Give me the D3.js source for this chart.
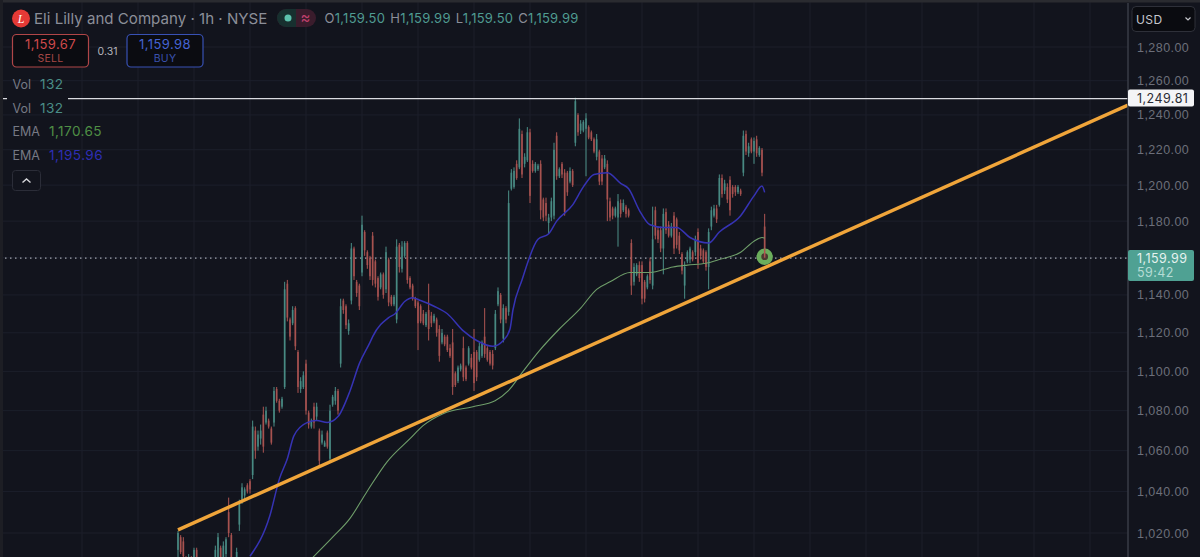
<!DOCTYPE html>
<html lang="en">

<head>
    <meta charset="UTF-8">
    <title>Eli Lilly and Company 1h</title>
    <script src="https://d3js.org/d3.v7.min.js"></script>
    <style>
        html, body {
            margin: 0;
            padding: 0;
            background-color: #12141d;
            overflow: hidden;
        }

        svg {
            display: block;
            font-family: Inter, "Noto Sans", sans-serif;
        }

        .price-axis text {
            fill: #6c6f7a;
            font-size: 12.5px;
            letter-spacing: 0.45px;
        }

        .price-axis .domain {
            stroke: #383b46;
            stroke-width: 1.5;
        }
    </style>
</head>

<body>
    <div id="chart"></div>

    <script>
        // Hourly candles (bar 0 is the first one on screen)
        const opens = [
            1012, 1018, 1016, 1008, 1002, 1008, 1003, 1012, 1006, 1000,
            1002, 998, 1001, 997, 1004, 1008, 1013, 1006, 1010, 1030,
            1019, 1005, 1003, 1024, 1036, 1038, 1043, 1045, 1048, 1070,
            1062, 1066, 1078, 1074, 1075, 1071, 1074, 1091, 1085, 1082,
            1092, 1146, 1127, 1125, 1133, 1110, 1091, 1092, 1104, 1079,
            1072, 1082, 1077, 1070, 1064, 1062, 1069, 1056, 1083, 1085,
            1090, 1104, 1137, 1134, 1121, 1137, 1165, 1147, 1145, 1152,
            1174, 1163, 1160, 1172, 1158, 1149, 1144, 1151, 1143, 1159,
            1139, 1135, 1127, 1167, 1154, 1161, 1168, 1149, 1145, 1138,
            1136, 1134, 1130, 1124, 1132, 1129, 1126, 1127, 1122, 1115,
            1118, 1118, 1112, 1115, 1099, 1095, 1101, 1112, 1102, 1104,
            1107, 1110, 1110, 1106, 1108, 1118, 1112, 1110, 1109, 1112,
            1135, 1140, 1117, 1133, 1131, 1198, 1199, 1212, 1210, 1229,
            1212, 1214, 1230, 1212, 1208, 1209, 1212, 1192, 1190, 1179,
            1182, 1183, 1228, 1205, 1212, 1207, 1207, 1202, 1208, 1224,
            1240, 1231, 1231, 1232, 1233, 1230, 1226, 1216, 1219, 1215,
            1210, 1212, 1191, 1187, 1183, 1182, 1190, 1186, 1188, 1186,
            1168, 1147, 1151, 1156, 1156, 1147, 1144, 1158, 1145, 1186,
            1175, 1175, 1165, 1185, 1178, 1172, 1183, 1181, 1172, 1162,
            1145, 1158, 1159, 1163, 1163, 1174, 1165, 1164, 1163, 1155,
            1177, 1183, 1187, 1189, 1204, 1197, 1199, 1203, 1199, 1199,
            1196, 1197, 1207, 1229, 1218, 1226, 1219, 1226, 1217, 1220,
            1177
        ];
        const highs = [
            1021, 1019, 1018, 1009, 1010, 1009, 1013, 1013, 1008, 1004,
            1005, 1003, 1004, 1006, 1014, 1020, 1014, 1016, 1018, 1037,
            1020, 1006, 1013, 1036, 1044, 1042, 1044, 1046, 1075, 1072,
            1070, 1073, 1082, 1082, 1076, 1072, 1092, 1092, 1086, 1087,
            1147, 1148, 1128, 1134, 1134, 1111, 1097, 1100, 1106, 1080,
            1076, 1084, 1084, 1071, 1070, 1065, 1070, 1083, 1088, 1092,
            1091, 1138, 1138, 1135, 1127, 1168, 1166, 1148, 1146, 1183,
            1175, 1164, 1161, 1174, 1159, 1150, 1152, 1152, 1166, 1160,
            1140, 1140, 1170, 1168, 1169, 1169, 1169, 1150, 1146, 1139,
            1137, 1135, 1132, 1131, 1146, 1131, 1130, 1128, 1124, 1122,
            1119, 1119, 1114, 1122, 1100, 1103, 1104, 1118, 1103, 1113,
            1109, 1122, 1111, 1115, 1116, 1133, 1113, 1111, 1111, 1132,
            1144, 1141, 1135, 1134, 1197, 1209, 1210, 1214, 1238, 1231,
            1218, 1233, 1232, 1214, 1213, 1212, 1214, 1193, 1193, 1184,
            1193, 1224, 1230, 1210, 1213, 1209, 1208, 1210, 1209, 1250,
            1241, 1237, 1237, 1241, 1234, 1231, 1227, 1229, 1220, 1217,
            1217, 1214, 1193, 1188, 1188, 1195, 1192, 1192, 1189, 1187,
            1170, 1157, 1157, 1158, 1158, 1148, 1151, 1160, 1188, 1188,
            1177, 1177, 1187, 1187, 1180, 1179, 1185, 1182, 1174, 1163,
            1158, 1164, 1166, 1164, 1172, 1176, 1167, 1165, 1164, 1176,
            1188, 1189, 1189, 1206, 1206, 1203, 1201, 1205, 1200, 1200,
            1200, 1198, 1231, 1231, 1224, 1227, 1227, 1228, 1222, 1221,
            1184
        ];
        const lows = [
            1005, 1010, 1008, 1000, 1000, 1001, 1002, 1005, 999, 996,
            997, 995, 996, 996, 1003, 1006, 1005, 1005, 1008, 1018,
            1006, 998, 1002, 1021, 1034, 1036, 1039, 1039, 1046, 1056,
            1060, 1063, 1059, 1073, 1071, 1063, 1072, 1084, 1079, 1081,
            1091, 1126, 1116, 1124, 1111, 1089, 1089, 1091, 1078, 1071,
            1071, 1071, 1075, 1052, 1063, 1062, 1061, 1054, 1082, 1083,
            1078, 1102, 1130, 1122, 1119, 1135, 1148, 1139, 1132, 1150,
            1161, 1154, 1148, 1145, 1144, 1137, 1143, 1138, 1141, 1134,
            1134, 1134, 1125, 1152, 1152, 1160, 1146, 1143, 1137, 1133,
            1111, 1125, 1124, 1123, 1116, 1123, 1125, 1118, 1105, 1114,
            1113, 1110, 1107, 1088, 1092, 1094, 1100, 1095, 1095, 1103,
            1101, 1090, 1095, 1105, 1107, 1107, 1105, 1103, 1101, 1111,
            1134, 1125, 1115, 1125, 1129, 1197, 1198, 1203, 1209, 1204,
            1210, 1213, 1190, 1207, 1207, 1208, 1181, 1180, 1180, 1173,
            1180, 1181, 1203, 1204, 1204, 1183, 1194, 1201, 1199, 1222,
            1228, 1229, 1230, 1205, 1226, 1225, 1218, 1214, 1200, 1200,
            1209, 1180, 1180, 1181, 1182, 1166, 1182, 1185, 1182, 1182,
            1140, 1145, 1150, 1147, 1135, 1136, 1143, 1146, 1143, 1170,
            1168, 1163, 1151, 1173, 1171, 1171, 1162, 1165, 1162, 1151,
            1138, 1157, 1157, 1158, 1161, 1154, 1159, 1157, 1153, 1143,
            1175, 1182, 1179, 1188, 1193, 1195, 1190, 1183, 1193, 1194,
            1195, 1194, 1205, 1217, 1216, 1218, 1212, 1216, 1216, 1205,
            1159.5
        ];
        const closes = [
            1020, 1011, 1009, 1002, 1008, 1003, 1012, 1006, 1000, 1002,
            998, 1001, 997, 1004, 1012, 1018, 1006, 1014, 1017, 1020,
            1008, 1000, 1011, 1034, 1042, 1041, 1040, 1041, 1072, 1060,
            1068, 1070, 1062, 1080, 1072, 1064, 1090, 1085, 1080, 1086,
            1143, 1128, 1118, 1132, 1113, 1092, 1095, 1098, 1080, 1073,
            1075, 1074, 1082, 1055, 1068, 1064, 1062, 1080, 1087, 1090,
            1080, 1134, 1132, 1124, 1125, 1165, 1150, 1141, 1134, 1178,
            1164, 1156, 1150, 1148, 1146, 1139, 1151, 1140, 1163, 1136,
            1135, 1139, 1166, 1155, 1166, 1168, 1148, 1144, 1138, 1134,
            1125, 1126, 1125, 1130, 1122, 1125, 1129, 1120, 1108, 1120,
            1114, 1111, 1108, 1092, 1093, 1102, 1103, 1097, 1096, 1112,
            1102, 1094, 1097, 1113, 1115, 1109, 1106, 1104, 1103, 1130,
            1142, 1127, 1133, 1127, 1190, 1207, 1208, 1204, 1232, 1206,
            1216, 1230, 1194, 1208, 1212, 1211, 1186, 1182, 1183, 1182,
            1191, 1220, 1205, 1209, 1206, 1185, 1196, 1208, 1200, 1248,
            1230, 1235, 1236, 1238, 1227, 1226, 1219, 1226, 1202, 1202,
            1215, 1192, 1182, 1183, 1187, 1191, 1184, 1190, 1184, 1183,
            1145, 1155, 1156, 1149, 1138, 1138, 1150, 1148, 1170, 1172,
            1170, 1165, 1184, 1175, 1172, 1177, 1165, 1167, 1164, 1153,
            1155, 1163, 1165, 1159, 1170, 1157, 1161, 1158, 1155, 1174,
            1186, 1187, 1181, 1204, 1195, 1201, 1192, 1186, 1195, 1196,
            1199, 1195, 1228, 1219, 1222, 1219, 1225, 1218, 1221, 1207,
            1160
        ];

        // EMA lines, read at the bars where they bend
        const blueEmaBars = [27, 34.5, 38, 41, 43.5, 48.4, 52, 56, 60, 64.5, 68, 72, 73, 79, 81.4, 85, 88, 91, 96, 101,
            107, 112, 118, 122, 124.5, 125.6, 129, 135, 139, 142, 148, 152, 156, 161, 166, 169, 173, 177, 182, 187,
            192, 199, 203, 211, 216, 219, 220];
        const blueEma = [1009, 1028.5, 1046, 1056, 1067.5, 1074, 1075, 1074, 1077, 1090, 1104, 1115, 1118, 1128, 1130, 1136.5, 1138.5, 1137, 1134, 1130,
            1121, 1116, 1113, 1116, 1122, 1132, 1148, 1170, 1173, 1180, 1189, 1199, 1206, 1207, 1201, 1198, 1186, 1178, 1176.5, 1176.5,
            1171, 1168, 1174, 1183, 1194, 1199.5, 1195.96];
        const greenEmaBars = [50.6, 58, 64.5, 70.9, 78.4, 87, 91.9, 99.4, 110.6, 118.9, 123.8, 129.4, 135.7, 143, 151, 157, 162, 169.5, 177, 185.6,
            191, 198, 203, 211, 216, 219, 220];
        const greenEma = [1008.5, 1018, 1027, 1040, 1054.5, 1066, 1072.5, 1078.5, 1082, 1085, 1090, 1100, 1111, 1122, 1133, 1143, 1147, 1152, 1152, 1155,
            1156, 1157, 1159, 1163, 1169, 1171, 1170.65];

        // Hand drawn trend line, first and last anchor
        const trendBars = [0, 356.25];
        const trendPrices = [1021.5, 1245.7];

        const priceTicks = [1280, 1260, 1240, 1220, 1200, 1180, 1140, 1120, 1100, 1080, 1060, 1040, 1020];
        const gridPrices = [1280, 1260, 1240, 1220, 1200, 1180, 1160, 1140, 1120, 1100, 1080, 1060, 1040, 1020];
        const gridBars = [-36, -15, 6, 27, 48, 69, 90, 111, 132, 153, 174, 195, 216, 237, 258, 279, 300, 321, 342];
        const highLine = 1249.81;
        const lastPrice = 1159.99;

        const upColor = "#4a8f87";
        const downColor = "#ad5451";
        const width = 1200;
        const height = 557;
        const plotRight = 1128;

        // Chart area: bars run on a linear scale, prices on a log scale
        const x = d3.scaleLinear().domain([0, 356.25]).range([178, plotRight]);
        const y = d3.scaleLog().domain([1020, 1280]).range([533, 47]);

        const svg = d3.select("#chart")
            .append("svg")
            .attr("width", width)
            .attr("height", height);

        svg.append("rect")
            .attr("width", width)
            .attr("height", height)
            .attr("fill", "#12141d");

        const defs = svg.append("defs");
        defs.append("clipPath")
            .attr("id", "plot-clip")
            .append("rect")
            .attr("width", plotRight)
            .attr("height", height);

        // The screenshot is soft, candles get a slight blur
        defs.append("filter")
            .attr("id", "soft")
            .append("feGaussianBlur")
            .attr("stdDeviation", 0.45);

        // Grid
        const grid = svg.append("g").attr("stroke", "#1c1f2b").attr("stroke-width", 1);
        grid.selectAll(".h")
            .data(gridPrices)
            .enter().append("line")
            .attr("x1", 0)
            .attr("x2", plotRight)
            .attr("y1", d => y(d))
            .attr("y2", d => y(d));
        grid.selectAll(".v")
            .data(gridBars)
            .enter().append("line")
            .attr("x1", d => x(d))
            .attr("x2", d => x(d))
            .attr("y1", 0)
            .attr("y2", height);

        const plot = svg.append("g").attr("clip-path", "url(#plot-clip)");

        // Last price line
        plot.append("line")
            .attr("x1", 0)
            .attr("x2", plotRight)
            .attr("y1", y(lastPrice) + 0.5)
            .attr("y2", y(lastPrice) + 0.5)
            .attr("stroke", "#a3a5ae")
            .attr("stroke-width", 1.3)
            .attr("stroke-dasharray", "1.5 3.5");

        // Candles
        const candleColor = (d, i) => closes[i] >= opens[i] ? upColor : downColor;
        const candles = plot.append("g").attr("filter", "url(#soft)");

        candles.append("g").selectAll("line")
            .data(opens)
            .enter().append("line")
            .attr("x1", (d, i) => x(i))
            .attr("x2", (d, i) => x(i))
            .attr("y1", (d, i) => y(highs[i]))
            .attr("y2", (d, i) => y(lows[i]))
            .attr("stroke", candleColor)
            .attr("stroke-width", 1);

        candles.append("g").selectAll("rect")
            .data(opens)
            .enter().append("rect")
            .attr("x", (d, i) => x(i) - 0.9)
            .attr("width", 1.8)
            .attr("y", (d, i) => y(Math.max(opens[i], closes[i])))
            .attr("height", (d, i) => Math.abs(y(opens[i]) - y(closes[i])))
            .attr("fill", candleColor)
            .attr("opacity", 0.8);

        // EMAs
        const emaLine = d3.line()
            .curve(d3.curveMonotoneX)
            .x(d => x(d[0]))
            .y(d => y(d[1]));
        const straightLine = d3.line()
            .x(d => x(d[0]))
            .y(d => y(d[1]));

        plot.append("path")
            .attr("d", emaLine(d3.zip(greenEmaBars, greenEma)))
            .attr("fill", "none")
            .attr("stroke", "#6f9e6a")
            .attr("stroke-width", 1.1);

        plot.append("path")
            .attr("d", emaLine(d3.zip(blueEmaBars, blueEma)))
            .attr("fill", "none")
            .attr("stroke", "#3633b4")
            .attr("stroke-width", 1.5);

        // Horizontal level
        plot.append("line")
            .attr("x1", 3)
            .attr("x2", plotRight)
            .attr("y1", y(highLine) + 0.5)
            .attr("y2", y(highLine) + 0.5)
            .attr("stroke", "#dadbe0")
            .attr("stroke-width", 1.3);

        // Trend line
        plot.append("path")
            .attr("d", straightLine(d3.zip(trendBars, trendPrices)))
            .attr("fill", "none")
            .attr("stroke", "#f0a53a")
            .attr("stroke-width", 3.4);

        // Marker on the last candle
        svg.append("circle")
            .attr("cx", x(220))
            .attr("cy", y(lastPrice) - 1)
            .attr("r", 8.2)
            .attr("fill", "#6bae5c");
        svg.append("circle")
            .attr("cx", x(220))
            .attr("cy", y(lastPrice) - 1)
            .attr("r", 3.4)
            .attr("fill", "#4a3b30");
        svg.append("line")
            .attr("x1", x(220))
            .attr("x2", x(220))
            .attr("y1", y(lastPrice) - 9)
            .attr("y2", y(lastPrice))
            .attr("stroke", downColor)
            .attr("stroke-width", 1.5);

        // Price axis
        svg.append("g")
            .attr("class", "price-axis")
            .attr("transform", `translate(${plotRight},0)`)
            .call(d3.axisRight(y)
                .tickValues(priceTicks)
                .tickFormat(d3.format(",.2f"))
                .tickSize(0)
                .tickPadding(9));

        svg.select(".price-axis .domain").attr("d", `M0,3V${height}`);

        // Axis tags
        svg.append("rect")
            .attr("x", plotRight).attr("y", y(highLine) - 8.5)
            .attr("width", 66).attr("height", 17)
            .attr("rx", 2)
            .attr("fill", "#f4f4f6");
        svg.append("text")
            .attr("x", 1137).attr("y", y(highLine) + 4.5)
            .attr("font-size", 12.5).attr("letter-spacing", 0.45)
            .attr("fill", "#2a2c34")
            .text(d3.format(",.2f")(highLine));

        svg.append("rect")
            .attr("x", plotRight).attr("y", 250)
            .attr("width", 66).attr("height", 31)
            .attr("rx", 2)
            .attr("fill", "#4fa193");
        svg.append("text")
            .attr("x", 1137).attr("y", 262.5)
            .attr("font-size", 12.5).attr("letter-spacing", 0.45)
            .attr("fill", "#e6f2ef")
            .text(d3.format(",.2f")(lastPrice));
        svg.append("text")
            .attr("x", 1137).attr("y", 276.5)
            .attr("font-size", 12.5).attr("letter-spacing", 0.45)
            .attr("fill", "#b5dcd5")
            .text("59:42");

        // Currency box
        svg.append("rect")
            .attr("x", 1132).attr("y", 6.5)
            .attr("width", 63).attr("height", 25)
            .attr("rx", 4)
            .attr("fill", "#0a0b10")
            .attr("stroke", "#2e3039");
        svg.append("text")
            .attr("x", 1136).attr("y", 23.5)
            .attr("font-size", 12).attr("letter-spacing", 0.4)
            .attr("fill", "#c6c7cd")
            .text("USD");
        svg.append("path")
            .attr("d", "M1185.5,17.5l2.5,2.5l2.5,-2.5")
            .attr("fill", "none")
            .attr("stroke", "#c6c7cd")
            .attr("stroke-width", 1.2);

        // Frame at the top and left of the screenshot
        svg.append("rect").attr("width", width).attr("height", 2.5).attr("fill", "#2a2b30");
        svg.append("rect").attr("width", 3).attr("height", height).attr("fill", "#1d1e24");

        // Legend block, covers the level line behind it
        svg.append("rect")
            .attr("x", 7).attr("y", 92)
            .attr("width", 61).attr("height", 14)
            .attr("fill", "#12141d");

        svg.append("circle").attr("cx", 21).attr("cy", 18.5).attr("r", 9).attr("fill", "#e43a36");
        svg.append("text")
            .attr("x", 21).attr("y", 22.5)
            .attr("text-anchor", "middle")
            .attr("font-family", "Liberation Serif")
            .attr("font-style", "italic")
            .attr("font-size", 12)
            .attr("fill", "#ffffff")
            .text("L");

        svg.append("text")
            .attr("x", 34).attr("y", 23.5)
            .attr("font-size", 15.1)
            .attr("fill", "#8b8e98")
            .text("Eli Lilly and Company · 1h · NYSE");

        svg.append("rect")
            .attr("x", 277).attr("y", 9)
            .attr("width", 39).attr("height", 18)
            .attr("rx", 9)
            .attr("fill", "#3a1c2c");
        svg.append("path")
            .attr("d", "M286,9h10v18h-10a9,9 0 0 1 0,-18z")
            .attr("fill", "#17302f");
        svg.append("circle").attr("cx", 288).attr("cy", 18).attr("r", 3.5).attr("fill", "#5cc2ad");
        svg.append("text")
            .attr("x", 305.5).attr("y", 23)
            .attr("text-anchor", "middle")
            .attr("font-size", 15)
            .attr("fill", "#c0406c")
            .text("≈");

        // OHLC readout
        const ohlcLabels = ["O", "H", "L", "C"];
        const ohlcValues = ["1,159.50", "1,159.99", "1,159.50", "1,159.99"];
        const ohlc = svg.append("text")
            .attr("x", 324.5).attr("y", 23)
            .attr("font-size", 13)
            .attr("letter-spacing", 0.25);
        ohlcLabels.forEach((label, i) => {
            ohlc.append("tspan").attr("dx", i ? 5 : 0).attr("fill", "#8b8e98").text(label);
            ohlc.append("tspan").attr("fill", "#4f9b91").text(ohlcValues[i]);
        });

        // Sell and buy boxes
        const tradeBoxes = [
            { x: 12.5, w: 76, stroke: "#b04648", price: "1,159.67", priceFill: "#cf4a4c", label: "SELL", labelFill: "#a64846" },
            { x: 127, w: 76, stroke: "#3851b4", price: "1,159.98", priceFill: "#4463d2", label: "BUY", labelFill: "#3a52ad" }
        ];
        tradeBoxes.forEach(b => {
            svg.append("rect")
                .attr("x", b.x).attr("y", 34.5)
                .attr("width", b.w).attr("height", 32.5)
                .attr("rx", 4)
                .attr("fill", "#0b0c11")
                .attr("stroke", b.stroke)
                .attr("stroke-width", 1.2);
            svg.append("text")
                .attr("x", b.x + b.w / 2).attr("y", 49)
                .attr("text-anchor", "middle")
                .attr("font-size", 13).attr("letter-spacing", 0.4)
                .attr("fill", b.priceFill)
                .text(b.price);
            svg.append("text")
                .attr("x", b.x + b.w / 2).attr("y", 62)
                .attr("text-anchor", "middle")
                .attr("font-size", 10.5).attr("letter-spacing", 0.3)
                .attr("fill", b.labelFill)
                .text(b.label);
        });
        svg.append("text")
            .attr("x", 107.5).attr("y", 54.5)
            .attr("text-anchor", "middle")
            .attr("font-size", 10.5)
            .attr("fill", "#b4b5bc")
            .text("0.31");

        // Indicator rows
        const rowNames = ["Vol", "Vol", "EMA", "EMA"];
        const rowValues = ["132", "132", "1,170.65", "1,195.96"];
        const rowFills = ["#4a8d87", "#4a8d87", "#4f8f45", "#2e2eb4"];
        const rowY = [88.5, 112.5, 136, 160];
        const rowValueX = [40, 40, 49, 49];
        rowNames.forEach((name, i) => {
            svg.append("text")
                .attr("x", 12.5).attr("y", rowY[i])
                .attr("font-size", 12.5)
                .attr("fill", "#767984")
                .text(name);
            svg.append("text")
                .attr("x", rowValueX[i]).attr("y", rowY[i])
                .attr("font-size", 13.6).attr("letter-spacing", 0.4)
                .attr("fill", rowFills[i])
                .text(rowValues[i]);
        });

        svg.append("rect")
            .attr("x", 12.5).attr("y", 170.5)
            .attr("width", 28).attr("height", 20)
            .attr("rx", 3)
            .attr("fill", "#12141d")
            .attr("stroke", "#2b2d38");
        svg.append("path")
            .attr("d", "M22.5,182.5l4,-3.5l4,3.5")
            .attr("fill", "none")
            .attr("stroke", "#d5d6da")
            .attr("stroke-width", 1.4);
    </script>
</body>

</html>
